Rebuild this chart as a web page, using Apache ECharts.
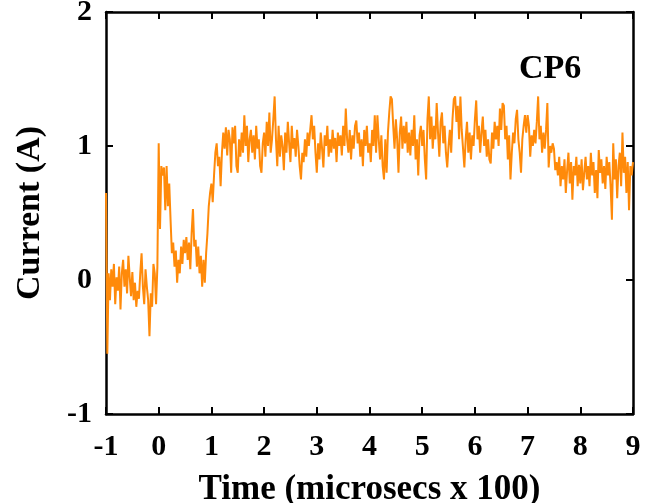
<!DOCTYPE html>
<html>
<head>
<meta charset="utf-8">
<script src="https://cdn.jsdelivr.net/npm/echarts@6/dist/echarts.min.js"></script>
<style>html,body{margin:0;padding:0;background:#fff}#c{width:645px;height:503px}</style>
</head>
<body>
<div id="c"></div>
<script>
// Sampling of the trace: start time and step (units of 100 microsecs)
const tStart = -1;
const tStep = 0.025;
// Current (A), one array per unit of time
const segM1 = [0.65,-0.55,0.05,-0.15,0.08,-0.05,0.12,-0.18,0.02,-0.08,0.10,-0.22,0.05,0.15,-0.05,0.08,-0.10,0.18,0.02,-0.12,0.06,-0.15,-0.02,-0.20,-0.08,-0.14,0.05,0.20,-0.05,-0.18,0.08,-0.05,-0.15,-0.42,-0.10,-0.20,0.12,0.05,-0.18,0.10];
const seg0 = [1.02,0.38,0.85,0.78,0.84,0.52,0.85,0.55,0.72,0.45,0.20,0.28,0.10,0.22,-0.02,0.15,0.05,0.25,0.12,0.30,0.20,0.32,0.15,0.28,0.08,0.35,0.53,0.25,0.30,0.10,0.25,0.05,0.18,-0.05,0.15,-0.02,0.20,0.35,0.55,0.65];
const seg1 = [0.72,0.58,0.78,0.95,1.02,0.85,0.92,0.70,0.95,1.10,0.98,1.14,0.93,1.12,1.05,0.80,1.14,1.02,1.15,0.85,0.80,1.05,0.92,1.10,0.95,1.23,1.00,1.15,0.88,1.05,1.12,0.95,1.08,0.90,1.15,0.98,1.05,0.85,0.80,1.02];
const seg2 = [1.10,0.92,1.18,1.00,1.25,0.95,1.05,1.20,1.37,1.05,0.85,1.15,0.92,1.08,1.00,0.82,1.10,0.95,1.18,1.02,0.88,1.15,0.98,1.06,0.92,1.12,1.00,0.85,0.75,0.95,0.88,1.05,0.92,1.10,1.00,1.12,1.23,1.05,1.15,0.95];
const seg3 = [0.80,1.02,0.90,1.10,0.98,0.84,1.08,1.00,1.15,0.92,1.05,0.95,1.12,0.98,1.06,0.88,1.10,1.00,1.08,0.93,1.15,1.00,1.28,1.05,0.95,1.12,0.90,1.08,0.98,1.15,1.19,1.02,1.10,0.92,1.05,0.85,1.12,1.00,1.15,0.95];
const seg4 = [1.02,0.88,1.12,1.00,1.23,0.95,1.23,1.05,0.90,1.08,0.85,0.75,1.05,0.80,1.10,1.25,1.37,1.35,1.15,0.98,1.20,1.05,0.80,1.10,1.22,0.98,1.15,1.02,1.18,0.95,1.10,0.93,1.12,1.00,1.23,0.90,1.05,0.78,1.08,1.15];
const seg5 = [1.00,1.12,0.90,0.75,1.20,1.37,1.05,1.22,0.98,1.15,1.05,1.32,1.10,0.92,1.18,1.25,1.02,1.15,0.95,0.84,1.00,1.12,0.95,1.20,1.35,1.37,1.18,1.30,1.05,1.37,1.12,0.98,0.84,1.05,1.18,0.95,1.10,0.90,1.08,1.00];
const seg6 = [1.20,1.34,1.05,1.15,0.95,1.10,1.22,1.00,1.12,0.92,1.05,0.90,0.87,1.10,0.98,1.18,1.05,1.15,1.00,1.28,1.12,1.32,1.30,1.05,1.15,0.90,1.08,0.75,0.95,1.10,1.02,1.20,1.27,1.05,0.95,0.80,1.05,1.15,1.23,1.10];
const seg7 = [1.23,1.15,0.92,1.08,1.00,1.12,1.02,1.18,1.37,1.05,1.15,0.95,1.10,0.98,1.12,1.32,0.84,1.00,0.95,1.02,0.98,0.82,0.88,0.78,0.92,0.70,0.85,0.75,0.90,0.65,0.82,0.95,0.72,0.88,0.60,0.85,0.78,0.92,0.70,0.86];
const seg8 = [0.72,0.90,0.67,0.80,0.92,0.75,0.85,0.70,0.95,0.78,0.88,0.65,0.82,0.61,0.97,0.80,0.90,0.72,0.85,0.68,0.92,0.78,0.88,0.70,0.45,1.02,0.75,0.90,0.61,0.85,0.95,0.70,1.10,0.80,0.92,0.65,0.88,0.52,0.85,0.78,0.88];
const xTicks = ['-1','0','1','2','3','4','5','6','7','8','9'];
const yTicks = ['-1','0','1','2'];
const label = 'CP6';

const values = [].concat(segM1, seg0, seg1, seg2, seg3, seg4, seg5, seg6, seg7, seg8);
const data = values.map((v, i) => [tStart + i * tStep, v]);

const font = '"Liberation Serif", "Times New Roman", serif';
const axLine = {show: true, onZero: false, lineStyle: {color: '#000', width: 2.5}};
const tick = {show: true, inside: true, length: 7, lineStyle: {color: '#000', width: 2}};
const lab = {show: true, color: '#000', fontFamily: font, fontWeight: 'bold', fontSize: 30};

const chart = echarts.init(document.getElementById('c'), null, {renderer: 'canvas'});
chart.setOption({
  animation: false,
  backgroundColor: '#fff',
  grid: {left: 106, right: 12, top: 12, bottom: 89, containLabel: false, outerBoundsMode: 'none'},
  xAxis: [
    {type: 'value', min: -1, max: 9, interval: 1, position: 'bottom',
     axisLine: axLine, axisTick: tick, splitLine: {show: false},
     axisLabel: Object.assign({}, lab, {margin: 18, formatter: v => xTicks[Math.round(v) + 1]}),
     name: 'Time (microsecs x 100)', nameLocation: 'middle', nameGap: 58,
     nameTextStyle: {color: '#000', fontFamily: font, fontWeight: 'bold', fontSize: 35}},
    {type: 'value', min: -1, max: 9, interval: 1, position: 'top',
     axisLine: axLine, axisTick: tick, splitLine: {show: false}, axisLabel: {show: false}}
  ],
  yAxis: [
    {type: 'value', min: -1, max: 2, interval: 1, position: 'left',
     axisLine: axLine, axisTick: tick, splitLine: {show: false},
     axisLabel: Object.assign({}, lab, {margin: 14, formatter: v => yTicks[Math.round(v) + 1]}),
     name: 'Current (A)', nameLocation: 'middle', nameGap: 59,
     nameTextStyle: {color: '#000', fontFamily: font, fontWeight: 'bold', fontSize: 34}},
    {type: 'value', min: -1, max: 2, interval: 1, position: 'right',
     axisLine: axLine, axisTick: tick, splitLine: {show: false}, axisLabel: {show: false}}
  ],
  graphic: [{type: 'text', left: 519, top: 52,
    style: {text: label, fill: '#000', font: 'bold 34px ' + font}}],
  series: [{type: 'line', data: data, showSymbol: false, symbol: 'none',
    lineStyle: {color: '#ff8a0a', width: 2}, xAxisIndex: 0, yAxisIndex: 0}]
});
</script>
</body>
</html>
